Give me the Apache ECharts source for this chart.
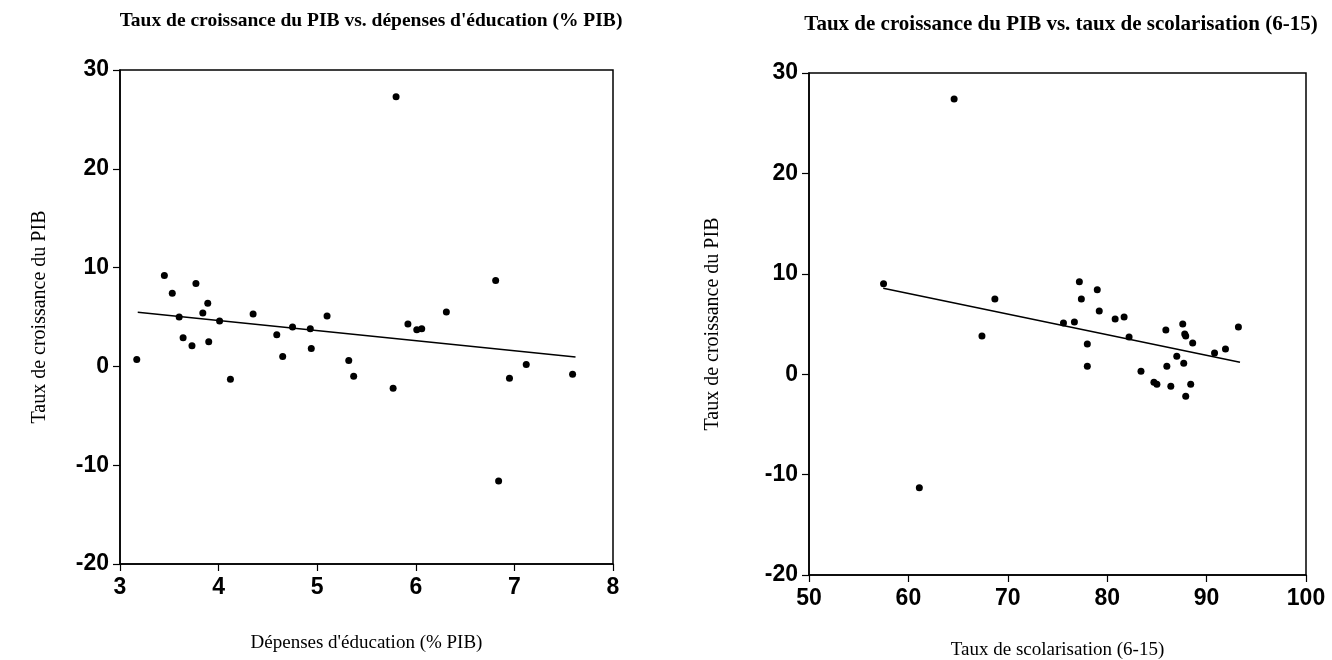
<!DOCTYPE html>
<html>
<head>
<meta charset="utf-8">
<script src="https://cdn.jsdelivr.net/npm/echarts@6/dist/echarts.min.js"></script>
<style>
    html, body { margin: 0; padding: 0; background: #fff; }
    #main { width: 1332px; height: 660px; }
</style>
</head>
<body>
<div id="main"></div>
<script>
// dépenses d'éducation (% PIB) vs croissance
var eduX = [3.17, 3.45, 3.53, 3.60, 3.64, 3.73, 3.77, 3.84, 3.89, 3.90, 4.01, 4.12, 4.35, 4.59, 4.65, 4.75,
    4.93, 4.94, 5.10, 5.32, 5.37, 5.77, 5.80, 5.92, 6.01, 6.06, 6.31, 6.81, 6.84, 6.95, 7.12, 7.59];
var eduY = [0.7, 9.2, 7.4, 5.0, 2.9, 2.1, 8.4, 5.4, 6.4, 2.5, 4.6, -1.3, 5.3, 3.2, 1.0, 4.0,
    3.8, 1.8, 5.1, 0.6, -1.0, -2.2, 27.3, 4.3, 3.7, 3.8, 5.5, 8.7, -11.6, -1.2, 0.2, -0.8];
var eduTrendX = [3.18, 7.62];
var eduTrendY = [5.48, 0.94];

// taux de scolarisation (6-15) vs croissance
var scolX = [57.5, 61.1, 64.6, 67.4, 68.7, 75.6, 76.7, 77.2, 77.4, 78.0, 78.0, 79.0, 79.2, 80.8, 81.7, 82.2,
    83.4, 84.7, 85.0, 85.9, 86.0, 86.4, 87.0, 87.6, 87.8, 87.9, 87.7, 88.6, 88.4, 87.9, 90.8, 91.9, 93.2];
var scolY = [9.0, -11.3, 27.4, 3.8, 7.5, 5.1, 5.2, 9.2, 7.5, 3.0, 0.8, 8.4, 6.3, 5.5, 5.7, 3.7,
    0.3, -0.8, -1.0, 4.4, 0.8, -1.2, 1.8, 5.0, 4.0, 3.8, 1.1, 3.1, -1.0, -2.2, 2.1, 2.5, 4.7];
var scolTrendX = [57.47, 93.36];
var scolTrendY = [8.57, 1.2];

var yTicks = [-20, 30, 10];

function pairs(xs, ys) {
    var out = [];
    for (var i = 0; i < xs.length; i++) {
        out.push([xs[i], ys[i]]);
    }
    return out;
}

var serif = '"Liberation Serif", "Times New Roman", serif';
var sans = '"Liberation Sans", Arial, sans-serif';

function xAxisOf(idx, min, max, step) {
    return {
        type: 'value', gridIndex: idx, min: min, max: max, interval: step,
        name: idx === 0 ? "Dépenses d'éducation (% PIB)" : 'Taux de scolarisation (6-15)',
        nameLocation: 'middle', nameGap: idx === 0 ? 70 : 66,
        nameTextStyle: { fontFamily: serif, fontSize: 19, color: '#000' },
        axisLine: { show: true, onZero: false, lineStyle: { color: '#000', width: 1.5 } },
        axisTick: { show: true, inside: false, length: 7, lineStyle: { color: '#000', width: 1.2 } },
        axisLabel: { fontFamily: sans, fontSize: 23, fontWeight: 'bold', color: '#000', margin: 12 },
        splitLine: { show: false }
    };
}

function yAxisOf(idx) {
    return {
        type: 'value', gridIndex: idx, min: yTicks[0], max: yTicks[1], interval: yTicks[2],
        name: 'Taux de croissance du PIB',
        nameLocation: 'middle', nameGap: idx === 0 ? 70 : 86, nameRotate: 90,
        nameTextStyle: { fontFamily: serif, fontSize: 20, color: '#000' },
        axisLine: { show: true, onZero: false, lineStyle: { color: '#000', width: 1.5 } },
        axisTick: { show: true, inside: false, length: 7, lineStyle: { color: '#000', width: 1.2 } },
        axisLabel: { fontFamily: sans, fontSize: 23, fontWeight: 'bold', color: '#000', margin: 11 },
        splitLine: { show: false }
    };
}

var chart = echarts.init(document.getElementById('main'));
chart.setOption({
    backgroundColor: '#fff',
    animation: false,
    title: [{
        text: "Taux de croissance du PIB vs. dépenses d'éducation (% PIB)",
        left: 366, top: 6, textAlign: 'center',
        textStyle: { fontFamily: serif, fontSize: 19.5, fontWeight: 'bold', color: '#000' }
    }, {
        text: 'Taux de croissance du PIB vs. taux de scolarisation (6-15)',
        left: 1056, top: 9, textAlign: 'center',
        textStyle: { fontFamily: serif, fontSize: 21, fontWeight: 'bold', color: '#000' }
    }],
    grid: [
        { left: 120, top: 70, width: 493, height: 494, show: true, borderColor: '#000', borderWidth: 1.5,
            outerBoundsMode: 'none' },
        { left: 809, top: 73, width: 497, height: 502, show: true, borderColor: '#000', borderWidth: 1.5,
            outerBoundsMode: 'none' }
    ],
    xAxis: [xAxisOf(0, 3, 8, 1), xAxisOf(1, 50, 100, 10)],
    yAxis: [yAxisOf(0), yAxisOf(1)],
    series: [{
        type: 'scatter', xAxisIndex: 0, yAxisIndex: 0,
        data: pairs(eduX, eduY), symbolSize: 7,
        itemStyle: { color: '#000', opacity: 1 }
    }, {
        type: 'line', xAxisIndex: 0, yAxisIndex: 0,
        data: pairs(eduTrendX, eduTrendY), symbol: 'none',
        lineStyle: { color: '#000', width: 1.5 }
    }, {
        type: 'scatter', xAxisIndex: 1, yAxisIndex: 1,
        data: pairs(scolX, scolY), symbolSize: 7,
        itemStyle: { color: '#000', opacity: 1 }
    }, {
        type: 'line', xAxisIndex: 1, yAxisIndex: 1,
        data: pairs(scolTrendX, scolTrendY), symbol: 'none',
        lineStyle: { color: '#000', width: 1.5 }
    }]
});
</script>
</body>
</html>
